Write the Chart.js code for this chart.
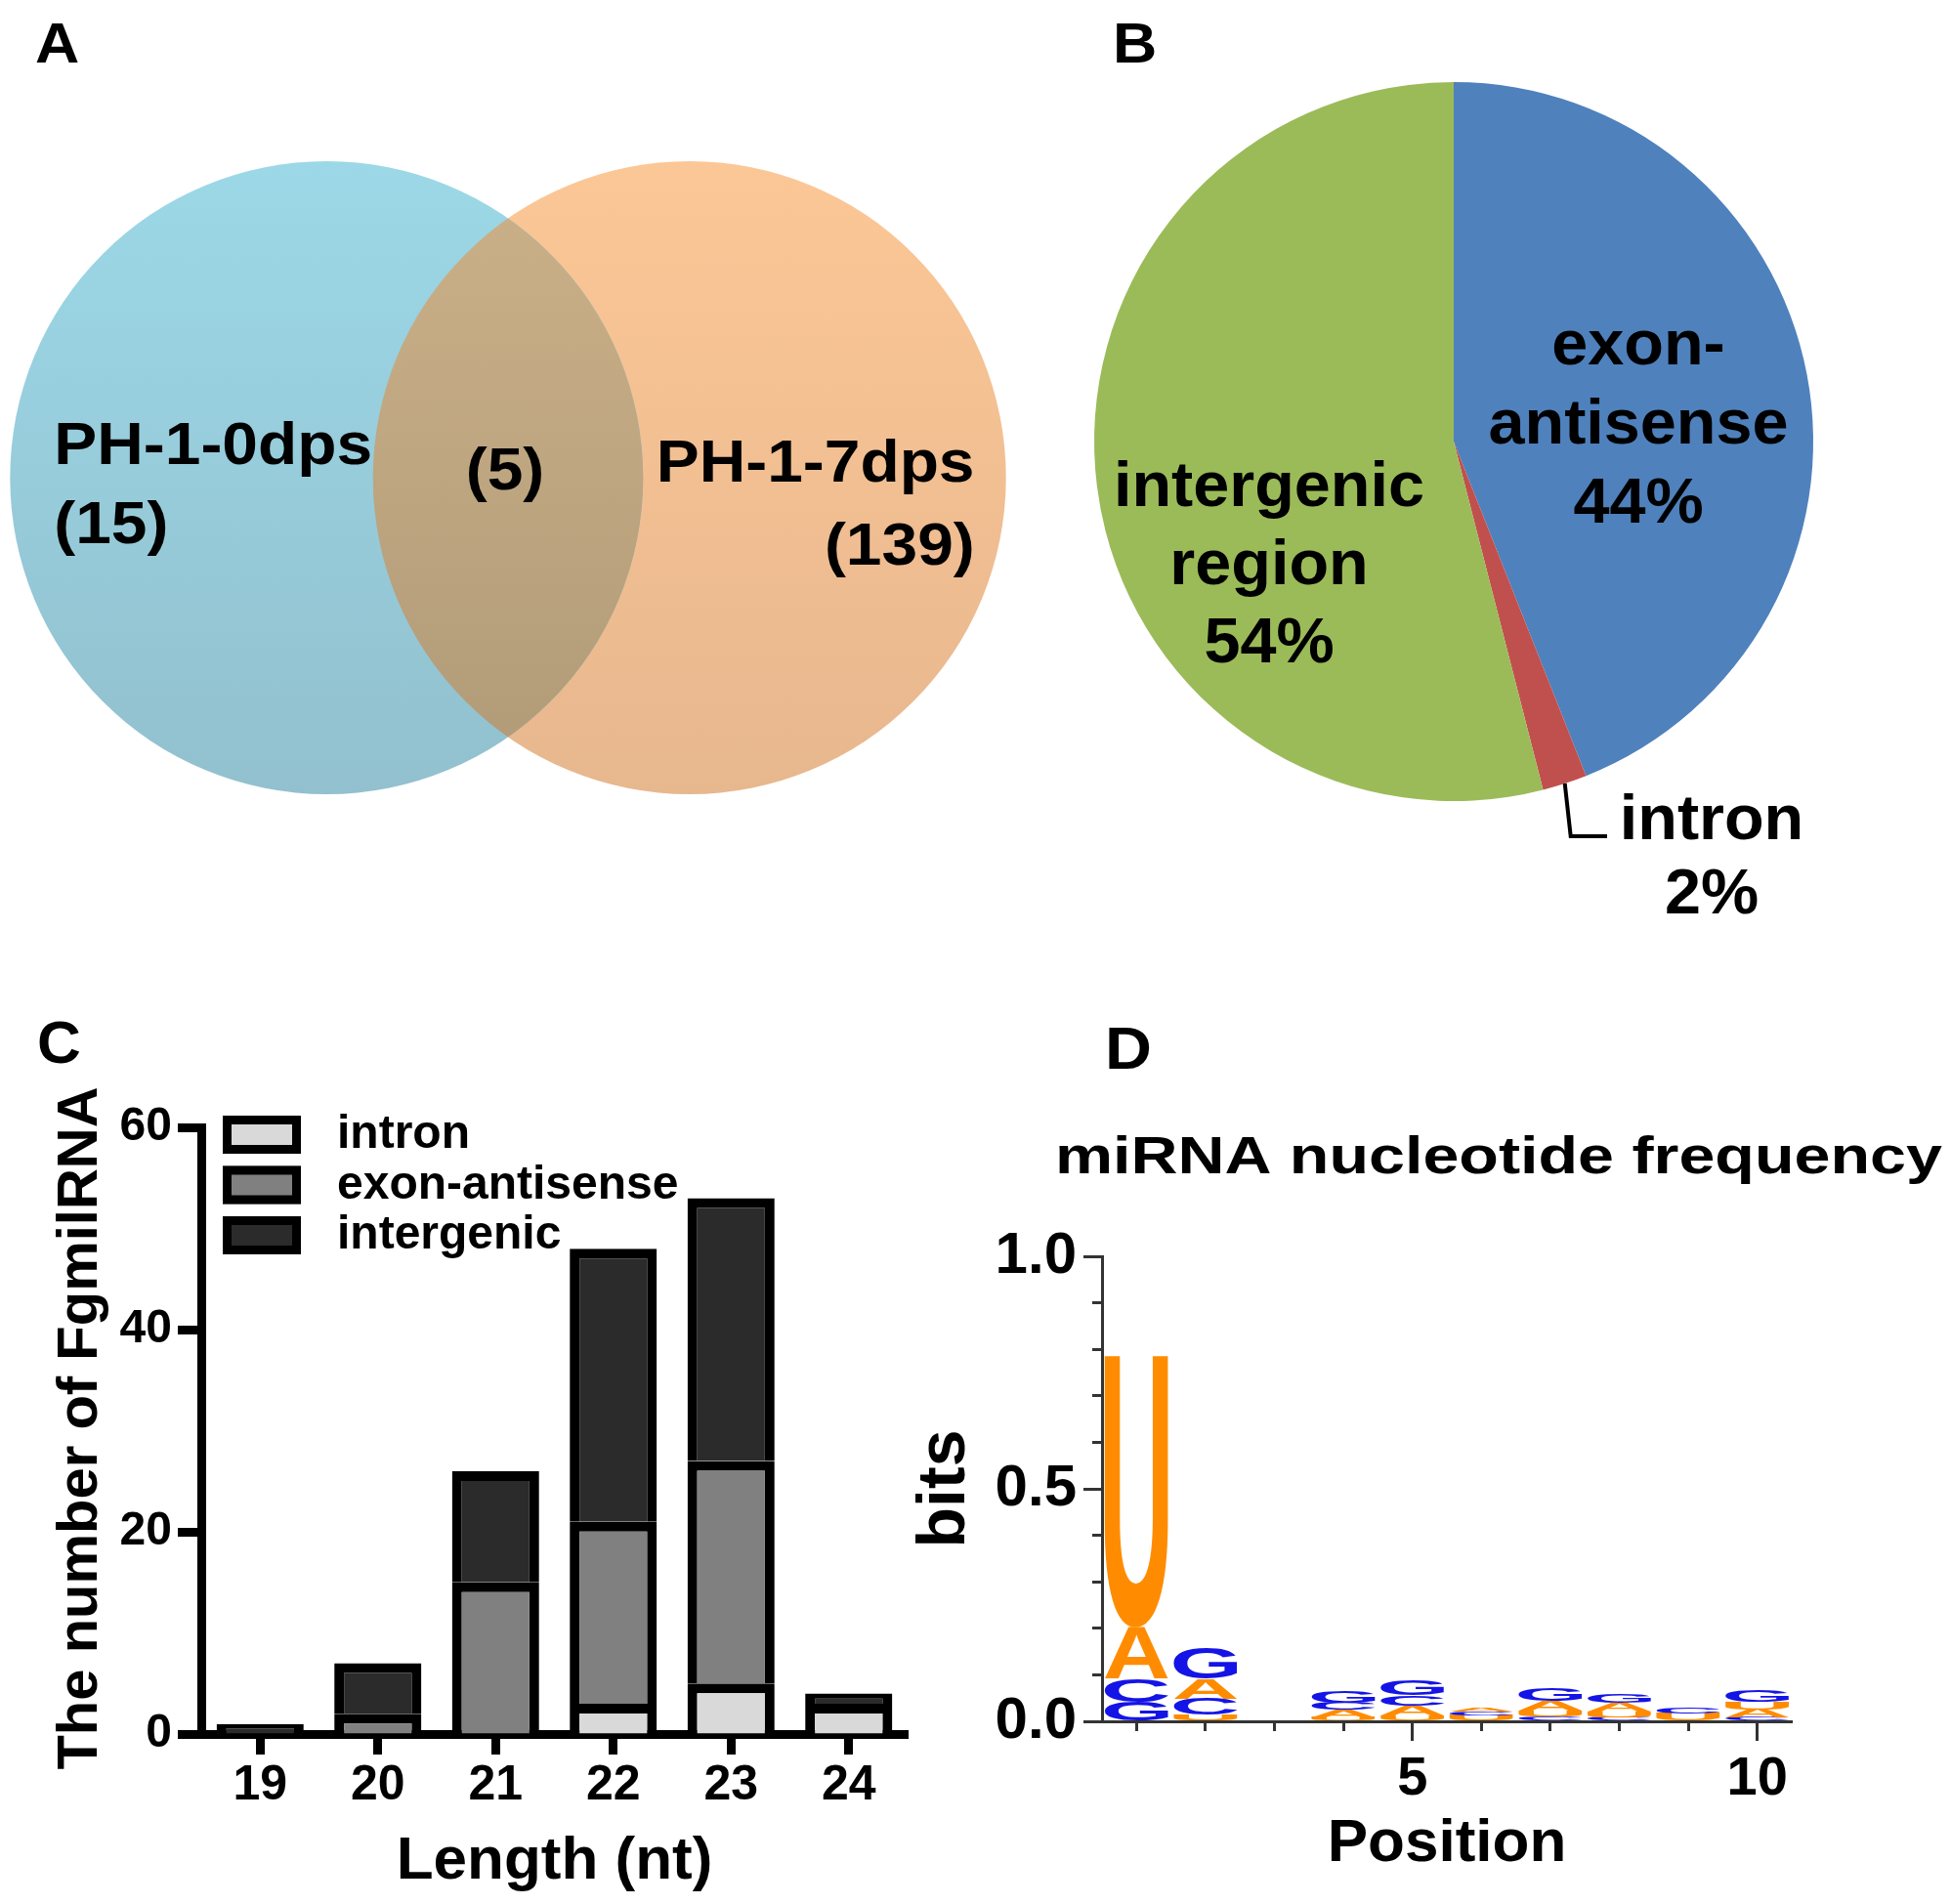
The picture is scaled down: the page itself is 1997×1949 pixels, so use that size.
<!DOCTYPE html>
<html>
<head>
<meta charset="utf-8">
<title>FgmilRNA overview</title>
<script src="https://cdn.jsdelivr.net/npm/chart.js@4.4.0/dist/chart.umd.min.js"></script>
<style>
  html, body { margin: 0; padding: 0; background: #fff; }
  body { position: relative; width: 1997px; height: 1949px; overflow: hidden; }
  .panel { position: absolute; }
</style>
</head>
<body>
<div class="panel" style="left:0;top:0;width:1040px;height:1000px"><canvas id="vennChart"></canvas></div>
<div class="panel" style="left:1000px;top:0;width:997px;height:1000px"><canvas id="originChart"></canvas></div>
<div class="panel" style="left:0;top:1000px;width:1000px;height:949px"><canvas id="lengthChart"></canvas></div>
<div class="panel" style="left:900px;top:1000px;width:1097px;height:949px"><canvas id="logoChart"></canvas></div>
<script>
// A: Venn of the two libraries
const vennSets = ['PH-1-0dps', 'PH-1-7dps'];
const vennCounts = [15, 139];
const vennShared = 5;

// B: genomic origin (%)
const originLabels = ['exon-antisense', 'intron', 'intergenic region'];
const originShares = [44, 2, 54];

// C: length distribution
const lengthLabels = ['19', '20', '21', '22', '23', '24'];
const intronCounts = [0, 0, 0, 3, 5, 3];
const exonCounts = [0, 2, 15, 18, 22, 0];
const intergenicCounts = [1, 5, 11, 27, 26, 1];
const countTicks = [0, 20, 40, 60];

// D: sequence logo, letters stacked from the bottom (bits)
const logoTitle = 'miRNA nucleotide frequency';
const logoPositions = ['1', '2', '3', '4', '5', '6', '7', '8', '9', '10'];
const logoLetters = [
  ['G', 'C', 'A', 'U'],
  ['U', 'C', 'A', 'G'],
  [],
  ['U', 'A', 'C', 'G'],
  ['U', 'A', 'C', 'G'],
  ['U', 'C', 'A'],
  ['C', 'U', 'A', 'G'],
  ['C', 'U', 'A', 'G'],
  ['U', 'C'],
  ['C', 'A', 'U', 'G']
];
const logoBits = [
  [0.042, 0.050, 0.110, 0.585],
  [0.014, 0.035, 0.042, 0.065],
  [],
  [0.008, 0.016, 0.016, 0.025],
  [0.012, 0.022, 0.022, 0.033],
  [0.013, 0.007, 0.007],
  [0.010, 0.012, 0.022, 0.028],
  [0.008, 0.012, 0.020, 0.020],
  [0.016, 0.014],
  [0.008, 0.018, 0.015, 0.025]
];
const logoTicks = [0, 0.5, 1];

const FONT = '"Liberation Sans", Arial, Helvetica, sans-serif';
Chart.defaults.font.family = FONT;
Chart.defaults.font.weight = 'bold';
Chart.defaults.color = '#000';
Chart.defaults.animation = false;
Chart.defaults.events = [];
Chart.defaults.plugins.legend.display = false;
Chart.defaults.plugins.tooltip.enabled = false;

function drawText(ctx, text, x, y, size, opts = {}) {
  ctx.save();
  ctx.font = `bold ${size}px ${FONT}`;
  ctx.fillStyle = opts.color || '#000';
  ctx.textAlign = opts.align || 'left';
  ctx.textBaseline = opts.baseline || 'alphabetic';
  ctx.translate(x, y);
  if (opts.rotate) ctx.rotate(opts.rotate);
  ctx.scale(opts.sx || 1, 1);
  ctx.fillText(text, 0, 0);
  ctx.restore();
}

// panel letter (A-D), drawn on top of each chart
function panelLetter(text, x, y, size, sx) {
  return {
    id: 'panelLetter' + text,
    afterDraw(chart) { drawText(chart.ctx, text, x, y, size, { sx }); }
  };
}

// ---------- A: Venn ----------
function vGrad(ctx, top, bottom) {
  const g = ctx.createLinearGradient(0, 165, 0, 815);
  g.addColorStop(0, top);
  g.addColorStop(1, bottom);
  return g;
}

const vennPlugin = {
  id: 'vennOverlap',
  afterDatasetsDraw(chart) {
    const a = chart.getDatasetMeta(0).data[0];
    const b = chart.getDatasetMeta(1).data[0];
    if (!a || !b) return;
    const ctx = chart.ctx;
    ctx.save();
    ctx.beginPath();
    ctx.arc(a.x, a.y, a.options.radius, 0, Math.PI * 2);
    ctx.clip();
    ctx.beginPath();
    ctx.arc(b.x, b.y, b.options.radius, 0, Math.PI * 2);
    ctx.fillStyle = vGrad(ctx, '#cbb189', '#b09a77');
    ctx.fill();
    ctx.restore();
  },
  afterDraw(chart) {
    const a = chart.getDatasetMeta(0).data[0];
    const b = chart.getDatasetMeta(1).data[0];
    const ctx = chart.ctx;
    const s = 61, sx = 1.08;
    drawText(ctx, vennSets[0], a.x - 279, a.y - 14, s, { sx });
    drawText(ctx, '(' + vennCounts[0] + ')', a.x - 279, a.y + 67, s, { sx });
    drawText(ctx, '(' + vennShared + ')', (a.x + b.x) / 2 - 3, a.y + 12, s, { sx, align: 'center' });
    drawText(ctx, vennSets[1], b.x - 34, b.y + 4, s, { sx });
    drawText(ctx, '(' + vennCounts[1] + ')', b.x + 292, b.y + 89, s, { sx, align: 'right' });
  }
};

new Chart(document.getElementById('vennChart'), {
  type: 'scatter',
  data: {
    datasets: [
      {
        label: vennSets[0],
        data: [{ x: 0, y: 0 }],
        pointRadius: 324, pointHoverRadius: 324, pointBorderWidth: 0,
        pointBackgroundColor: c => vGrad(c.chart.ctx, '#9cd8e7', '#92c0ce')
      },
      {
        label: vennSets[1],
        data: [{ x: 1, y: 0 }],
        pointRadius: 324, pointHoverRadius: 324, pointBorderWidth: 0,
        pointBackgroundColor: c => vGrad(c.chart.ctx, '#fcc796', '#e7b78e')
      }
    ]
  },
  options: {
    responsive: true,
    maintainAspectRatio: false,
    clip: false,
    layout: { autoPadding: false, padding: { bottom: 22 } },
    scales: {
      x: { type: 'linear', display: false, min: -0.9, max: 1.9 },
      y: { type: 'linear', display: false, min: -1, max: 1 }
    }
  },
  plugins: [vennPlugin, panelLetter('A', 36, 64, 57, 1.1)]
});

// ---------- B: pie ----------
const pieAnchors = [[189, -79, 81], [264, 407, 76], [-189, 66, 80]];

const pieLabels = {
  id: 'pieLabels',
  afterDraw(chart) {
    const ctx = chart.ctx;
    const arcs = chart.getDatasetMeta(0).data;
    const cx = arcs[0].x, cy = arcs[0].y;
    originLabels.forEach((label, i) => {
      const lines = label.split(/(?<=-)|\s+/).concat(originShares[i] + '%');
      const [dx, dy, step] = pieAnchors[i];
      lines.forEach((t, k) => drawText(ctx, t, cx + dx, cy + dy + k * step, 64, { sx: 1.04, align: 'center' }));
    });
    // leader line for the thin intron slice
    const arc = arcs[1];
    const mid = (arc.startAngle + arc.endAngle) / 2;
    const ex = cx + arc.outerRadius * Math.cos(mid);
    const ey = cy + arc.outerRadius * Math.sin(mid);
    ctx.save();
    ctx.strokeStyle = '#000';
    ctx.lineWidth = 4;
    ctx.beginPath();
    ctx.moveTo(ex, ey);
    ctx.lineTo(ex + 6, cy + 404);
    ctx.lineTo(cx + 157, cy + 404);
    ctx.stroke();
    ctx.restore();
  }
};

new Chart(document.getElementById('originChart'), {
  type: 'pie',
  data: {
    labels: originLabels,
    datasets: [{
      data: originShares,
      backgroundColor: ['#4f81bd', '#c0504d', '#9bbb59'],
      borderWidth: 0,
      hoverOffset: 0
    }]
  },
  options: {
    responsive: true,
    maintainAspectRatio: false,
    layout: { padding: { left: 120, top: 84, right: 141, bottom: 180 } }
  },
  plugins: [pieLabels, panelLetter('B', 139, 64, 57, 1.1)]
});

// ---------- C: stacked bars ----------
const lengthExtras = {
  id: 'lengthExtras',
  afterDraw(chart) {
    const ctx = chart.ctx;
    const area = chart.chartArea;
    drawText(ctx, 'The number of FgmilRNA', 83, 462, 58, { rotate: -Math.PI / 2, align: 'center', baseline: 'middle' });
    // legend in the top-left corner of the plot
    chart.data.datasets.forEach((ds, i) => {
      const x = area.left + 22, y = area.top - 12 + i * 51.5;
      ctx.save();
      ctx.fillStyle = ds.backgroundColor;
      ctx.fillRect(x, y, 80, 39);
      ctx.lineWidth = 9;
      ctx.strokeStyle = '#000';
      ctx.strokeRect(x + 4.5, y + 4.5, 71, 30);
      ctx.restore();
      drawText(ctx, ds.label, x + 117, y + 20, 48, { baseline: 'middle' });
    });
  }
};

new Chart(document.getElementById('lengthChart'), {
  type: 'bar',
  data: {
    labels: lengthLabels,
    datasets: [
      { label: 'intron', data: intronCounts, backgroundColor: '#d9d9d9' },
      { label: 'exon-antisense', data: exonCounts, backgroundColor: '#808080' },
      { label: 'intergenic', data: intergenicCounts, backgroundColor: '#2b2b2b' }
    ]
  },
  options: {
    responsive: true,
    maintainAspectRatio: false,
    layout: { padding: { left: 120, top: 154, right: 71, bottom: 6 } },
    datasets: { bar: { borderColor: '#000', borderWidth: 10, barPercentage: 0.74, categoryPercentage: 1 } },
    scales: {
      x: {
        stacked: true,
        z: 1,
        grid: { offset: false, drawOnChartArea: false, tickLength: 21, tickWidth: 9, tickColor: '#000' },
        border: { width: 9, color: '#000' },
        ticks: { font: { size: 50, weight: 'bold' }, color: '#000', padding: 2, maxRotation: 0 },
        title: { display: true, text: 'Length (nt)', font: { size: 62, weight: 'bold' }, color: '#000', padding: 0 },
        afterFit: s => { s.height = 168; }
      },
      y: {
        stacked: true,
        min: 0,
        max: 60,
        afterBuildTicks: s => { s.ticks = countTicks.map(v => ({ value: v })); },
        grid: { drawOnChartArea: false, tickLength: 24, tickWidth: 9, tickColor: '#000' },
        border: { width: 9, color: '#000' },
        ticks: { font: { size: 48, weight: 'bold' }, color: '#000', padding: 6 },
        afterFit: s => { s.width = 86; }
      }
    }
  },
  plugins: [lengthExtras, panelLetter('C', 38, 88, 62, 1)]
});

// ---------- D: sequence logo ----------
const letterColor = { A: '#ff8c00', U: '#ff8c00', C: '#1414e6', G: '#1414e6' };
const layerCount = Math.max(...logoLetters.map(l => l.length));

const logoGlyphs = {
  id: 'logoGlyphs',
  afterDatasetsDraw(chart) {
    const ctx = chart.ctx;
    ctx.save();
    ctx.font = `bold 200px ${FONT}`;
    ctx.textAlign = 'left';
    ctx.textBaseline = 'alphabetic';
    chart.data.datasets.forEach((ds, k) => {
      chart.getDatasetMeta(k).data.forEach((bar, j) => {
        const letter = logoLetters[j][k];
        if (!letter) return;
        const top = Math.min(bar.y, bar.base), bottom = Math.max(bar.y, bar.base);
        const h = bottom - top;
        if (h < 1) return;
        const left = bar.x - bar.width / 2;
        const m = ctx.measureText(letter);
        const gw = m.actualBoundingBoxLeft + m.actualBoundingBoxRight;
        const gh = m.actualBoundingBoxAscent + m.actualBoundingBoxDescent;
        ctx.save();
        ctx.fillStyle = letterColor[letter];
        ctx.translate(left, bottom);
        ctx.scale(bar.width / gw, h / gh);
        ctx.fillText(letter, m.actualBoundingBoxLeft, -m.actualBoundingBoxDescent);
        ctx.restore();
      });
    });
    ctx.restore();
  },
  afterDraw(chart) {
    drawText(chart.ctx, logoTitle, 180, 201, 54, { sx: 1.23 });
  }
};

const axisGrey = '#333';

new Chart(document.getElementById('logoChart'), {
  type: 'bar',
  data: {
    labels: logoPositions,
    datasets: Array.from({ length: layerCount }, (_, k) => ({
      label: 'layer ' + (k + 1),
      xAxisID: 'x',
      yAxisID: 'y',
      data: logoBits.map(b => b[k] || 0),
      backgroundColor: 'rgba(0,0,0,0)',
      borderWidth: 0
    }))
  },
  options: {
    responsive: true,
    maintainAspectRatio: false,
    layout: { padding: { left: 34, top: 286, right: 163, bottom: 24 } },
    datasets: { bar: { barPercentage: 0.95, categoryPercentage: 0.97 } },
    scales: {
      xMinor: {
        type: 'category',
        position: 'bottom',
        weight: 0,
        offset: true,
        grid: { offset: false, drawOnChartArea: false, tickLength: 10, tickWidth: 3, tickColor: axisGrey },
        border: { display: false },
        ticks: { display: false, autoSkip: false },
        afterFit: s => { s.height = 0; }
      },
      x: {
        stacked: true,
        weight: 1,
        z: 1,
        grid: {
          offset: false, drawOnChartArea: false, tickLength: 20, tickWidth: 3,
          tickColor: c => (c.index + 1) % 5 === 0 ? axisGrey : 'rgba(0,0,0,0)'
        },
        border: { width: 3, color: axisGrey },
        ticks: {
          autoSkip: false, maxRotation: 0, padding: 6, color: '#000',
          font: { size: 56, weight: 'bold' },
          callback(v, i) { return (i + 1) % 5 === 0 ? this.getLabelForValue(v) : ''; }
        },
        title: { display: true, text: 'Position', font: { size: 62, weight: 'bold' }, color: '#000', padding: 0 },
        afterFit: s => { s.height = 163; }
      },
      yMinor: {
        type: 'linear',
        position: 'left',
        weight: 0,
        min: 0,
        max: 1,
        ticks: { display: false, stepSize: 0.1 },
        grid: { drawOnChartArea: false, tickLength: 10, tickWidth: 3, tickColor: axisGrey },
        border: { display: false },
        afterFit: s => { s.width = 0; }
      },
      y: {
        stacked: true,
        weight: 1,
        min: 0,
        max: 1,
        afterBuildTicks: s => { s.ticks = logoTicks.map(v => ({ value: v })); },
        grid: { drawOnChartArea: false, tickLength: 19, tickWidth: 3, tickColor: axisGrey },
        border: { width: 3, color: axisGrey },
        ticks: { font: { size: 60, weight: 'bold' }, color: '#000', padding: 7, callback: v => v.toFixed(1) },
        title: { display: true, text: 'bits', font: { size: 68, weight: 'bold', lineHeight: 1 }, color: '#000', padding: 0 },
        afterFit: s => { s.width = 194; }
      }
    }
  },
  plugins: [logoGlyphs, panelLetter('D', 231, 94, 62, 1.07)]
});
</script>
</body>
</html>
